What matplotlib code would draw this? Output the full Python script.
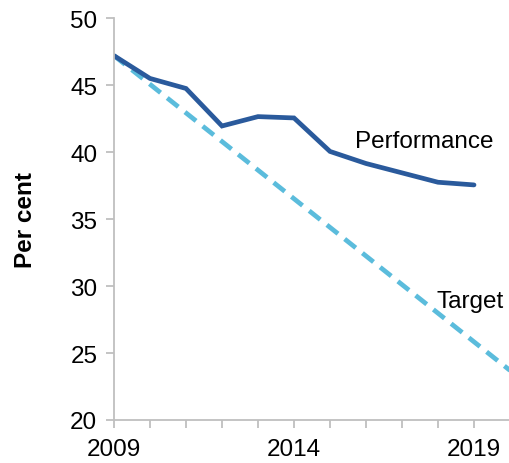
import matplotlib
matplotlib.use("Agg")
import matplotlib.pyplot as plt

plt.rcParams['font.family'] = ['Liberation Sans', 'DejaVu Sans']

years = [2009, 2010, 2011, 2012, 2013, 2014, 2015, 2016, 2017, 2018, 2019]
performance = [47.2, 45.5, 44.75, 41.95, 42.65, 42.55, 40.05, 39.15, 38.45, 37.75, 37.55]
target_years = [2009, 2020]
target = [47.2, 23.7]
y_ticks = [20, 25, 30, 35, 40, 45, 50]
x_tick_labels = {2009: "2009", 2014: "2014", 2019: "2019"}

fig = plt.figure(figsize=(5.1, 4.64), dpi=100)
ax = fig.add_axes([0.2235, 0.0927, 0.7765, 0.866])

ax.plot(target_years, target, color='#5bbcdc', lw=3.4, ls=(0, (3.0, 1.8)),
        solid_capstyle='butt', dash_capstyle='butt')
ax.plot(years, performance, color='#2a5a9c', lw=3.4, solid_capstyle='round',
        solid_joinstyle='miter')

ax.set_xlim(2009, 2020)
ax.set_ylim(20, 50)
ax.set_yticks(y_ticks)
ax.set_xticks(list(range(2009, 2021)))
ax.set_xticklabels([x_tick_labels.get(y, "") for y in range(2009, 2021)])

for s in ['top', 'right']:
    ax.spines[s].set_visible(False)
for s in ['left', 'bottom']:
    ax.spines[s].set_color('#bfbfbf')
    ax.spines[s].set_linewidth(1.3)
ax.tick_params(axis='both', colors='#bfbfbf', labelcolor='black', labelsize=17.5,
               length=6, width=1.3, direction='out')
ax.tick_params(axis='x', pad=7)
ax.tick_params(axis='y', pad=6)

ax.set_ylabel('Per cent', fontsize=17.5, fontweight='bold', labelpad=24)

ax.text(2015.7, 40.8, 'Performance', fontsize=17.5, ha='left', va='center')
ax.text(2017.95, 28.9, 'Target', fontsize=17.5, ha='left', va='center')

fig.savefig('out.png', dpi=100)
